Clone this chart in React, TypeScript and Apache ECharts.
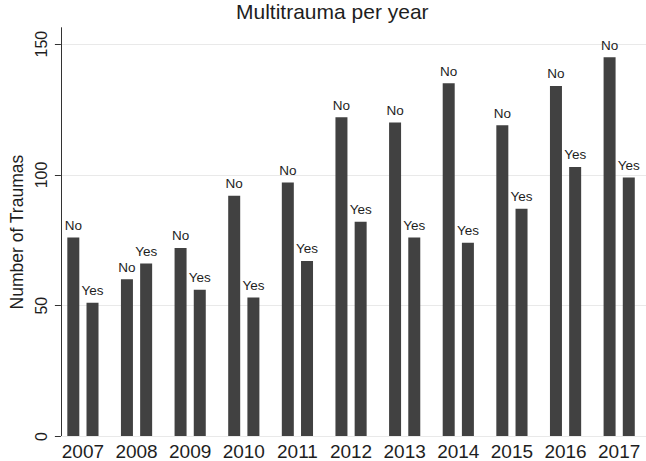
import React, { useEffect, useRef } from "react";
import * as echarts from "echarts";

const years = ["2007", "2008", "2009", "2010", "2011", "2012", "2013", "2014", "2015", "2016", "2017"];
const noValues = [76, 60, 72, 92, 97, 122, 120, 135, 119, 134, 145];
const yesValues = [51, 66, 56, 53, 67, 82, 76, 74, 87, 103, 99];
const yTicks = [0, 50, 100, 150];
const seriesNames = ["No", "Yes"];

const FONT = "'Liberation Sans', Arial, Helvetica, sans-serif";
const TEXT = "#1e1e1e";
const BAR = "#414141";
const GRID = "#e9e9e9";

export default function App() {
  const ref = useRef<HTMLDivElement>(null);

  useEffect(() => {
    document.body.style.margin = "0";
    const chart = echarts.init(ref.current!, null, { renderer: "svg" });
    const yMax = 156.3;
    const top = 27.7;
    const bottom = 24.5;
    const makeSeries = (name: string, data: number[]) => ({
      name,
      type: "bar",
      xAxisIndex: 1,
      yAxisIndex: 1,
      data,
      barWidth: 12,
      barGap: "60%",
      itemStyle: { color: BAR },
      label: {
        show: true,
        position: "top",
        distance: 5,
        formatter: name,
        fontFamily: FONT,
        fontSize: 13.5,
        color: TEXT,
      },
    });
    chart.setOption({
      animation: false,
      title: {
        text: "Multitrauma per year",
        left: 236,
        top: 1,
        padding: 0,
        textStyle: { fontFamily: FONT, fontSize: 21, fontWeight: "normal", color: TEXT },
      },
      grid: [
        { left: 47, right: 0, top, bottom },
        { left: 56.1, width: 593.6, top, bottom },
      ],
      xAxis: [
        {
          gridIndex: 0,
          type: "value",
          position: "top",
          min: 0,
          max: 1,
          axisLine: { show: true, lineStyle: { color: GRID, width: 1 } },
          axisTick: { show: false },
          axisLabel: { show: false },
          splitLine: { show: false },
        },
        {
          gridIndex: 1,
          type: "category",
          data: years,
          axisLine: { show: false },
          axisTick: { show: false },
          axisLabel: { interval: 0, hideOverlap: false, fontFamily: FONT, fontSize: 19, color: TEXT, margin: 6 },
        },
      ],
      yAxis: [
        {
          gridIndex: 0,
          type: "value",
          min: 0,
          max: yMax,
          interval: 50,
          name: "Number of Traumas",
          nameLocation: "middle",
          nameGap: 29,
          nameTextStyle: { fontFamily: FONT, fontSize: 17.5, color: TEXT },
          axisLine: { show: true, lineStyle: { color: "#333333", width: 1 } },
          axisTick: { show: true, length: 6, lineStyle: { color: "#333333" }, customValues: yTicks },
          axisLabel: {
            rotate: 90,
            margin: 11,
            fontFamily: FONT,
            fontSize: 16,
            color: TEXT,
            customValues: yTicks,
          },
          splitLine: {
            show: true,
            lineStyle: { color: ["rgba(0,0,0,0)", GRID, GRID, GRID, GRID], width: 1 },
          },
        },
        {
          gridIndex: 1,
          type: "value",
          min: 0,
          max: yMax,
          show: false,
          splitLine: { show: false },
        },
      ],
      series: [makeSeries(seriesNames[0], noValues), makeSeries(seriesNames[1], yesValues)],
    });
    return () => chart.dispose();
  }, []);

  return <div ref={ref} style={{ width: 646, height: 461 }} />;
}
